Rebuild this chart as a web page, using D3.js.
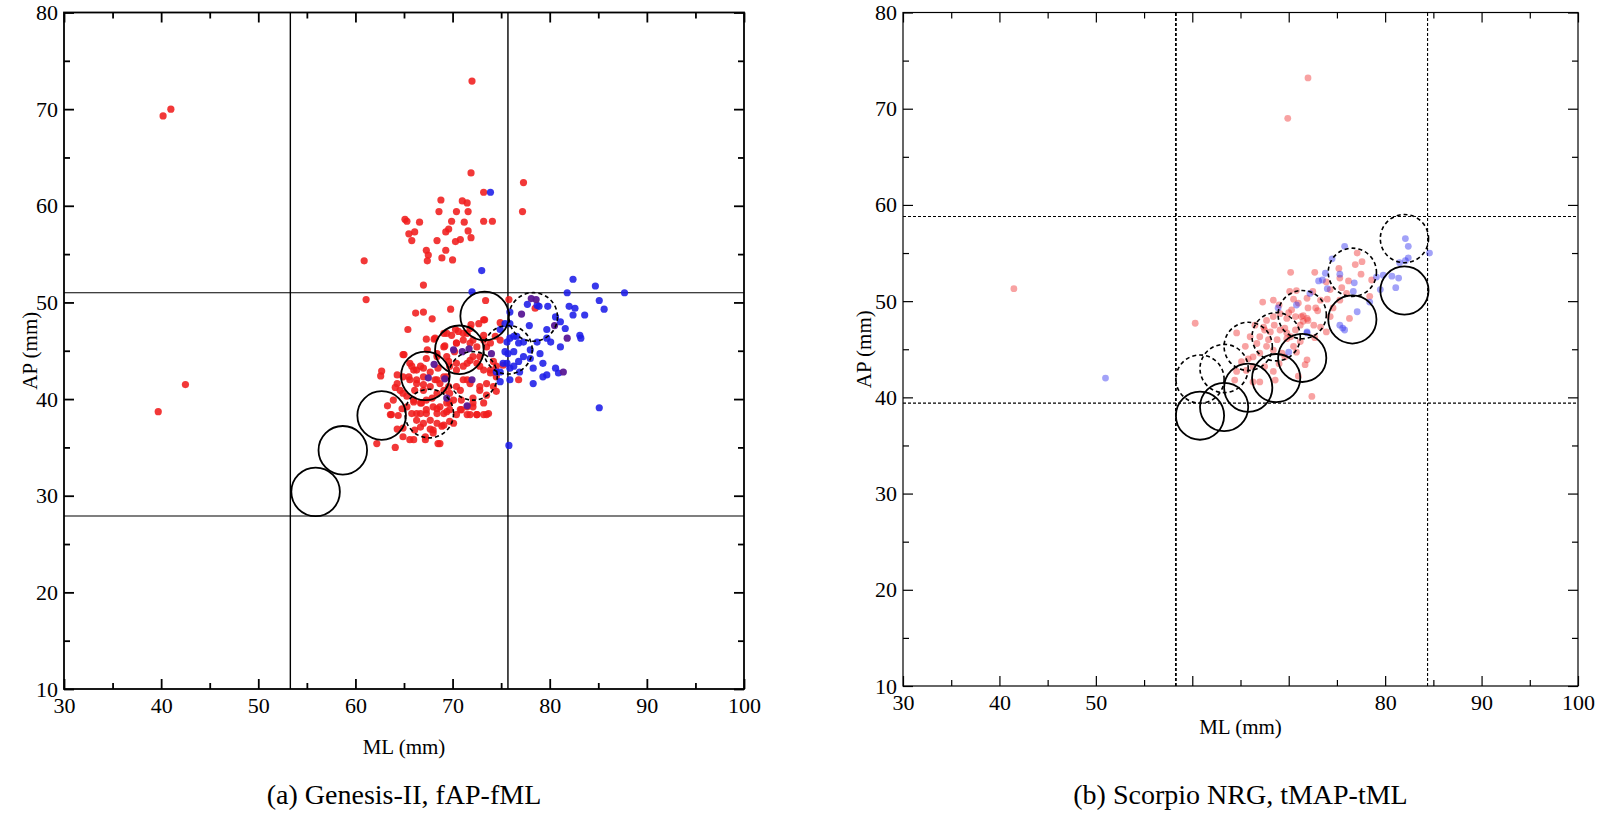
<!DOCTYPE html>
<html><head><meta charset="utf-8">
<script src="https://cdn.jsdelivr.net/npm/d3@7"></script>
<style>body{margin:0;background:#fff}svg{display:block}</style>
</head><body>
<svg id="c" width="1599" height="820"></svg>
<script>
// ---------- shared tick data ----------
const xMajor = [30,40,50,60,70,80,90,100];
const xMinor = [35,45,55,65,75,85,95];
const yMajor = [10,20,30,40,50,60,70,80];
const yMinor = [15,25,35,45,55,65,75];
const xLabelsA = [30,40,50,60,70,80,90,100];
const xLabelsB = [30,40,50,80,90,100];
const yLabels = [10,20,30,40,50,60,70,80];
const circleRadiusMM = 2.5;

// ---------- panel (a) Genesis-II ----------
const genesisRed = [
[40.2,69.3],[41.0,70.0],[39.7,38.7],[42.5,41.5],[72.0,72.9],
[71.9,63.4],[77.3,62.4],[73.2,61.4],[68.8,60.6],[71.0,60.5],[71.5,60.3],[71.6,59.4],[68.6,59.4],[70.4,59.4],[77.2,59.4],
[65.1,58.6],[65.3,58.4],[66.6,58.3],[69.9,58.4],[71.2,58.3],[73.2,58.4],[74.1,58.4],[69.6,57.6],[71.6,57.4],[69.3,57.3],
[66.1,57.3],[65.5,57.1],[71.9,56.7],[65.8,56.4],[68.4,56.4],[70.3,56.3],[70.8,56.5],[67.3,55.4],[69.3,55.4],[67.5,54.9],
[68.9,54.6],[70.0,54.4],[67.4,54.3],[60.9,54.3],[67.0,51.8],[61.1,50.3],
[66.2,48.9],[67.0,49.0],[67.9,48.3],[69.8,49.3],[65.4,47.2],[67.3,46.2],[68.2,46.3],[69.2,45.5],[69.4,46.8],[70.3,47.2],
[71.9,47.7],[73.3,48.2],[74.9,47.9],[75.8,50.3],[73.4,50.2],[70.2,44.9],[72.1,44.4],[73.5,45.4],[73.2,46.6],[65.0,44.6],
[62.7,42.9],[62.6,42.4],[64.3,42.5],[65.5,42.3],[66.3,43.0],[67.0,41.5],[64.1,41.2],[64.9,40.6],[66.1,40.9],[66.3,42.0],
[67.3,44.2],[68.5,43.2],[70.4,43.0],[71.5,42.0],[72.8,43.4],[73.9,43.0],[74.5,42.3],[74.5,40.8],[72.8,40.9],[70.8,40.9],
[69.6,41.3],[68.7,41.6],[67.9,40.1],[66.8,39.6],[66.0,39.7],[65.3,39.2],[66.3,38.5],[67.3,38.5],[68.4,39.0],[69.4,38.7],
[70.4,38.4],[71.5,38.4],[72.5,38.4],[73.5,38.4],[63.3,39.3],[63.7,38.4],[64.4,38.3],[64.9,37.0],[66.7,37.1],[68.0,36.8],
[68.9,37.2],[62.2,35.4],[64.1,35.0],[66.0,35.8],[67.2,35.8],[68.5,35.4],[69.7,39.6],[70.9,39.9],[72.1,40.1],[73.5,40.4],
[74.2,41.3],[75.2,43.5],[74.2,43.9],[72.1,46.1],[71.1,46.8],[70.4,45.8],[68.4,44.4],[69.6,43.9],[71.5,43.7],[72.8,44.4],
[69.4,42.3],[68.2,42.0],[67.0,43.2],[65.8,43.4],[65.8,38.5],[67.7,37.8],[70.1,37.5],[70.9,38.9],[72.1,39.2],[73.2,39.6],
[68.1,46.2],[69.1,46.8],[69.9,46.6],[70.6,47.0],[71.5,46.8],[71.8,47.3],[72.7,47.8],[73.2,48.2],[67.4,45.1],[68.4,44.7],
[69.1,45.4],[69.4,44.4],[70.4,45.8],[71.1,46.1],[71.8,45.8],[72.5,45.4],[73.2,46.1],[73.9,45.8],[74.4,46.5],[74.9,46.1],
[64.9,44.6],[65.6,43.7],[66.0,43.0],[66.7,43.4],[67.0,42.3],[67.7,42.8],[68.4,42.0],[69.1,42.3],[69.7,43.4],[70.4,43.7],
[71.1,43.4],[71.8,44.0],[72.5,43.7],[73.2,43.0],[73.9,42.7],[74.5,43.4],[73.5,41.6],[72.8,41.3],[71.8,41.6],[71.1,42.0],
[70.4,41.3],[69.7,40.6],[69.1,40.9],[68.4,40.6],[67.7,41.3],[67.0,40.9],[66.3,41.6],[65.6,42.0],[64.9,42.3],[64.3,41.6],
[64.6,40.9],[65.3,40.3],[66.0,39.9],[66.7,39.6],[67.3,39.9],[68.0,39.2],[68.7,39.2],[69.4,39.6],[70.1,39.9],[70.8,38.9],
[71.5,39.2],[72.1,39.6],[71.8,38.4],[72.5,38.4],[73.2,38.4],[73.7,38.5],[66.7,38.5],[67.3,38.9],[68.4,38.5],[69.1,38.5],
[69.7,38.9],[66.3,37.8],[67.0,37.5],[67.7,36.9],[68.4,37.5],[69.1,37.3],[69.7,37.7],[66.1,36.8],[67.2,36.1],[68.0,36.5],
[68.7,35.4],[64.3,36.9],[64.9,36.1],[65.6,35.8],[63.6,38.4],[63.9,39.9],[64.8,39.0],[78.5,49.4],[76.8,42.0]
];
const genesisBlue = [
[73.9,61.4],[73.0,53.3],[82.4,52.4],[84.7,51.7],[81.8,51.0],[87.7,51.0],[85.1,50.2],[85.6,49.3],[82.0,49.6],[82.6,49.4],
[82.4,48.7],[83.6,48.7],[72.0,51.1],[85.1,39.1],[75.8,35.2],
[77.7,49.8],[78.9,49.6],[79.8,49.6],[77.9,47.6],[75.9,49.0],[75.4,47.8],[74.9,47.2],[75.6,45.9],[76.8,45.8],[77.3,45.9],
[76.6,46.5],[78.0,45.1],[78.7,45.9],[79.7,47.2],[80.1,45.9],[81.1,45.4],[80.6,48.5],[81.1,48.0],[81.6,47.3],[83.1,46.6],
[83.2,46.3],[79.0,44.7],[79.3,43.7],[78.3,43.2],[78.0,44.2],[75.4,44.9],[75.6,43.7],[76.3,43.4],[74.9,42.8],[74.9,41.8],
[75.9,42.0],[76.9,42.8],[78.3,41.6],[79.3,42.3],[79.7,42.5],[80.6,43.2],[80.9,42.7],[79.7,46.3],[78.7,49.7],[75.9,46.3],
[75.7,44.7],[77.3,44.4],[75.9,47.8],[76.3,46.5],[76.3,44.9],[75.2,43.7],[75.9,43.2],[74.5,42.8],[76.8,43.9]
];
const genesisPurple = [
[70.1,45.1],[71.0,44.9],[71.7,45.2],[68.1,43.6],[67.5,42.2],[69.2,42.1],[72.0,42.0],[74.0,44.7],[71.5,39.3],[69.4,40.1],
[78.1,50.4],[78.6,50.3],[77.1,48.8],[81.8,46.3],[80.5,47.6],[81.4,42.8]
];
const genesisSolidCircles = [[55.9,30.4],[58.7,34.7],[62.7,38.3],[67.2,42.4],[70.7,45.1],[73.3,48.6]];
const genesisDashedCircles = [[67.6,38.5],[72.1,42.4],[75.7,45.1],[78.3,48.5]];
const genesisVLines = [53.3, 75.7];
const genesisHLines = [51.0, 27.9];

// ---------- panel (b) Scorpio NRG ----------
const scorpioRed = [
[41.5,51.3],[69.9,69.0],[72.0,73.2],[60.3,47.7],
[70.2,53.0],[72.7,53.0],[73.9,52.0],[75.2,53.4],[77.1,55.0],[77.6,54.1],[76.9,53.8],[75.3,52.4],[76.2,52.1],[75.5,51.4],
[67.3,49.9],[68.4,50.1],[70.1,51.0],[70.8,51.1],[71.9,50.3],[72.8,49.3],[72.0,49.3],[71.3,48.4],[71.9,48.2],[71.5,47.9],
[70.7,48.4],[69.8,48.2],[69.1,48.7],[68.4,48.4],[67.7,48.0],[67.4,47.3],[68.1,46.8],[69.1,47.0],[69.8,46.7],[70.7,47.0],
[69.8,46.1],[68.8,46.0],[67.9,46.0],[67.0,46.3],[66.7,45.6],[67.7,45.3],[68.4,44.9],[69.3,44.6],[67.0,44.6],[66.3,44.2],
[65.5,45.3],[64.6,46.7],[66.0,46.3],[65.1,43.7],[64.6,42.7],[64.4,41.8],[66.3,41.6],[67.0,41.6],[68.4,42.7],[68.6,41.8],
[71.0,42.2],[70.8,44.7],[71.9,43.9],[71.7,43.4],[72.4,40.1],[72.6,47.5],[73.3,47.3],[73.9,46.8],[74.3,48.4],[74.6,49.3],
[75.3,50.1],[76.3,48.2],[78.4,50.5],[74.3,51.2],[73.3,50.1],[71.2,45.8],[70.5,45.3],[69.6,44.2],[66.3,43.2],[65.6,42.8],
[71.5,48.5],[72.0,48.0],[71.2,47.5],[70.3,49.1],[69.6,47.2],
[69.0,49.6],[70.0,48.8],[70.5,50.2],[72.5,51.0],[73.0,49.0],[71.0,49.8],[68.5,47.5],[67.5,47.0],[66.5,47.5],[65.8,44.0],
[67.5,43.2],[69.0,43.5],[70.2,46.3],[72.7,46.2],[74.0,50.2],[76.0,50.8],[77.5,52.8],[78.6,52.2]
];
const scorpioBlue = [
[51.0,42.0],
[75.8,55.7],[74.5,54.4],[75.3,52.8],[73.8,52.9],[73.5,52.2],[74.0,51.3],[76.8,51.9],[76.7,51.0],[70.8,49.6],[72.2,50.8],
[68.9,49.3],[77.1,48.9],[75.3,47.5],[75.8,47.0],[71.9,46.7],[70.0,44.7],[78.4,49.9],[79.5,51.2],[80.7,52.6],[81.4,52.4],
[81.1,51.4],[79.8,52.7],[79.1,52.5],[81.5,54.0],[82.1,54.2],[82.4,54.5],[82.1,56.5],[82.4,55.7],[84.6,55.0],
[73.1,52.1],[75.6,47.2],[71.9,46.8]
];
const scorpioSolidCircles = [[60.8,38.1],[63.3,39.0],[65.8,41.0],[68.7,42.0],[71.4,44.1],[76.6,48.1],[82.0,51.1]];
const scorpioDashedCircles = [[60.8,41.9],[63.3,43.0],[65.8,45.3],[68.7,46.3],[71.4,48.6],[76.6,53.0],[82.0,56.5]];
const scorpioVLines = [58.3, 84.4];
const scorpioHLines = [58.8, 39.4];

const FONT = "'Liberation Serif', 'Times New Roman', serif";
const svg = d3.select("#c");

function panel(cfg) {
  const x = d3.scaleLinear().domain([30,100]).range([cfg.left, cfg.right]);
  const y = d3.scaleLinear().domain([10,80]).range([cfg.bottom, cfg.top]);
  const g = svg.append("g");
  const rPx = x(30 + circleRadiusMM) - x(30);

  // reference lines
  cfg.vLines.forEach((v,i) => {
    g.append("line").attr("x1", x(v)).attr("x2", x(v)).attr("y1", y(10)).attr("y2", y(80))
      .attr("stroke", "#000").attr("stroke-width", cfg.vWidth[i])
      .attr("stroke-dasharray", cfg.dashedRefs ? "3,2" : null);
  });
  cfg.hLines.forEach(v => {
    g.append("line").attr("x1", x(30)).attr("x2", x(100)).attr("y1", y(v)).attr("y2", y(v))
      .attr("stroke", "#000").attr("stroke-width", cfg.hWidth)
      .attr("stroke-dasharray", cfg.dashedRefs ? "3,2" : null);
  });

  // points
  cfg.series.forEach(s => {
    g.append("g").selectAll("circle").data(s.data).join("circle")
      .attr("cx", d => x(d[0])).attr("cy", d => y(d[1])).attr("r", s.r)
      .attr("fill", s.color).attr("fill-opacity", s.opacity);
  });

  // circles
  g.append("g").selectAll("circle").data(cfg.solid).join("circle")
    .attr("cx", d => x(d[0])).attr("cy", d => y(d[1])).attr("r", rPx)
    .attr("fill", "none").attr("stroke", "#000").attr("stroke-width", 1.8);
  g.append("g").selectAll("circle").data(cfg.dashed).join("circle")
    .attr("cx", d => x(d[0])).attr("cy", d => y(d[1])).attr("r", rPx)
    .attr("fill", "none").attr("stroke", "#000").attr("stroke-width", 1.6)
    .attr("stroke-dasharray", "4,3");

  // axes (inward ticks on all sides)
  const style = sel => {
    sel.attr("font-family", FONT).attr("font-size", 22);
    sel.select(".domain").remove();
    sel.selectAll("line").attr("stroke", "#000").attr("stroke-width", cfg.axisWidth);
    sel.selectAll("text").attr("fill", "#000").style("font-family", FONT);
  };
  const ax = g.append("g");
  ax.append("g").attr("transform", `translate(0,${cfg.bottom})`)
    .call(d3.axisBottom(x).tickValues(xMajor).tickSize(-10).tickPadding(8)
      .tickFormat(d => cfg.xLabels.includes(d) ? d : "")).call(style);
  ax.append("g").attr("transform", `translate(0,${cfg.bottom})`)
    .call(d3.axisBottom(x).tickValues(xMinor).tickSize(-6).tickFormat("")).call(style);
  ax.append("g").attr("transform", `translate(0,${cfg.top})`)
    .call(d3.axisTop(x).tickValues(xMajor).tickSize(-10).tickFormat("")).call(style);
  ax.append("g").attr("transform", `translate(0,${cfg.top})`)
    .call(d3.axisTop(x).tickValues(xMinor).tickSize(-6).tickFormat("")).call(style);
  ax.append("g").attr("transform", `translate(${cfg.left},0)`)
    .call(d3.axisLeft(y).tickValues(yMajor).tickSize(-10).tickPadding(6)
      .tickFormat(d => yLabels.includes(d) ? d : "")).call(style);
  ax.append("g").attr("transform", `translate(${cfg.left},0)`)
    .call(d3.axisLeft(y).tickValues(yMinor).tickSize(-6).tickFormat("")).call(style);
  ax.append("g").attr("transform", `translate(${cfg.right},0)`)
    .call(d3.axisRight(y).tickValues(yMajor).tickSize(-10).tickFormat("")).call(style);
  ax.append("g").attr("transform", `translate(${cfg.right},0)`)
    .call(d3.axisRight(y).tickValues(yMinor).tickSize(-6).tickFormat("")).call(style);

  // frame
  g.append("rect").attr("x", cfg.left).attr("y", cfg.top)
    .attr("width", cfg.right - cfg.left).attr("height", cfg.bottom - cfg.top)
    .attr("fill", "none").attr("stroke", "#000").attr("stroke-width", cfg.axisWidth);

  // labels
  const cx = (cfg.left + cfg.right) / 2;
  g.append("text").attr("x", cx).attr("y", cfg.xTitleY).attr("text-anchor", "middle")
    .style("font-family", FONT).attr("font-size", 21).text("ML (mm)");
  g.append("text").attr("transform", `translate(${cfg.yTitleX},${(cfg.top+cfg.bottom)/2}) rotate(-90)`)
    .attr("text-anchor", "middle").style("font-family", FONT).attr("font-size", 21).text("AP (mm)");
  g.append("text").attr("x", cx).attr("y", 804).attr("text-anchor", "middle")
    .style("font-family", FONT).attr("font-size", 28).text(cfg.caption);
}

panel({
  left: 64, right: 744, top: 12.5, bottom: 689,
  axisWidth: 1.8, vWidth: [1.4,1.4], hWidth: 1.2, dashedRefs: false,
  vLines: genesisVLines, hLines: genesisHLines,
  series: [
    {data: genesisRed, color: "#f01c1c", opacity: 0.88, r: 3.6},
    {data: genesisBlue, color: "#1c1ce8", opacity: 0.88, r: 3.6},
    {data: genesisPurple, color: "#5a1896", opacity: 0.95, r: 3.6}
  ],
  solid: genesisSolidCircles, dashed: genesisDashedCircles,
  xLabels: xLabelsA, xTitleY: 754, yTitleX: 37,
  caption: "(a) Genesis-II, fAP-fML"
});

panel({
  left: 903, right: 1578, top: 12.5, bottom: 686,
  axisWidth: 1.2, vWidth: [1.8,1.1], hWidth: 1.1, dashedRefs: true,
  vLines: scorpioVLines, hLines: scorpioHLines,
  series: [
    {data: scorpioRed, color: "#f03030", opacity: 0.45, r: 3.4},
    {data: scorpioBlue, color: "#3030f0", opacity: 0.45, r: 3.4}
  ],
  solid: scorpioSolidCircles, dashed: scorpioDashedCircles,
  xLabels: xLabelsB, xTitleY: 734, yTitleX: 871,
  caption: "(b) Scorpio NRG, tMAP-tML"
});
</script>
</body></html>
